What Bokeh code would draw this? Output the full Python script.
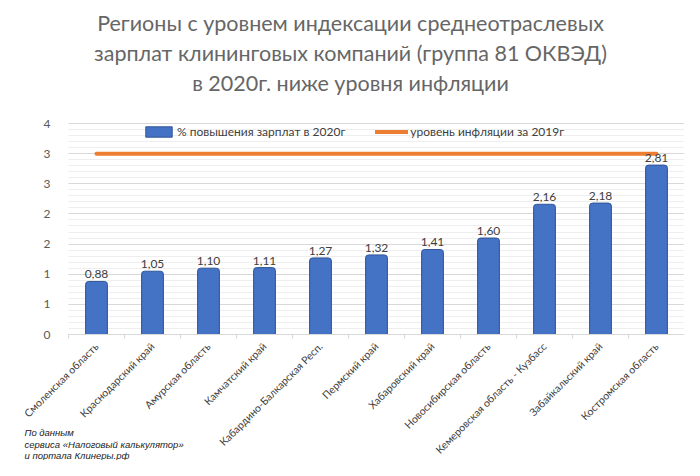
from bokeh.plotting import figure
from bokeh.models import (FixedTicker, Legend, LegendItem, Label, Range1d,
                          ColumnDataSource, LinearAxis, Grid)
from bokeh.embed import file_html
from bokeh.resources import INLINE
from bokeh.core.properties import value
import math

# ---- data ----
regions = [
    "Смоленская область",
    "Краснодарский край",
    "Амурская область",
    "Камчатский край",
    "Кабардино-Балкарская Респ.",
    "Пермский край",
    "Хабаровский край",
    "Новосибирская область",
    "Кемеровская область - Кузбасс",
    "Забайкальский край",
    "Костромская область",
]
pct_2020 = [0.88, 1.05, 1.10, 1.11, 1.27, 1.32, 1.41, 1.60, 2.16, 2.18, 2.81]
inflation_2019 = 3.0
y_ticks = [0, 0.5, 1.0, 1.5, 2.0, 2.5, 3.0, 3.5]
y_tick_labels = ["0", "1", "1", "2", "2", "3", "3", "4"]
series_names = ["% повышения зарплат в 2020г", "уровень инфляции за 2019г"]
title_lines = [
    "Регионы с уровнем индексации среднеотраслевых",
    "зарплат клининговых компаний (группа 81 ОКВЭД)",
    "в 2020г. ниже уровня инфляции",
]
note_lines = [
    "По данным",
    "сервиса «Налоговый калькулятор»",
    "и портала Клинеры.рф",
]

BAR = "#4472C4"
ORANGE = "#ED7D31"
TXT = "#404040"
FONT = "Lato"

W, H = 684, 460
# plot area inside the canvas (px): left, right, top(y=3.5), bottom(y=0)
PL, PR, PT, PB = 68, 684, 123, 334
n = len(regions)
ux = (PR - PL) / n                       # px per category
uy = (PB - PT) / y_ticks[-1]             # px per unit
x0 = -0.5 - PL / ux
x1 = x0 + W / ux
y1 = y_ticks[-1] + PT / uy
y0 = -(H - PB) / uy

idx = list(range(n))
src = ColumnDataSource(dict(
    x=idx,
    pct=pct_2020,
    lbl=[f"{v:.2f}".replace(".", ",") for v in pct_2020],
    infl=[inflation_2019] * n,
))

p = figure(
    x_range=Range1d(x0, x1), y_range=Range1d(y0, y1),
    width=W, height=H,
    output_backend="svg", toolbar_location=None,
    x_axis_location=None, y_axis_location=None,
    min_border=0, min_border_left=0, min_border_right=0,
    min_border_top=0, min_border_bottom=0,
)
p.outline_line_color = None
p.background_fill_color = "white"
p.border_fill_color = "white"
p.xgrid.visible = False
p.ygrid.visible = False

# grid lines (bounded to plot area)
minor = [i / 10 for i in range(36)]
ygrid = Grid(dimension=1, ticker=FixedTicker(ticks=y_ticks, minor_ticks=minor),
             grid_line_color="#D9D9D9", minor_grid_line_color="#EEEEEE")
if "cross_bounds" in Grid.properties():
    ygrid.cross_bounds = (-0.5, n - 0.5)
    p.add_layout(ygrid)
else:
    ys_major = [t for t in y_ticks if t > 0]
    ys_minor = [m for m in minor if all(abs(m - t) > 1e-9 for t in y_ticks)]
    p.segment(x0=[-0.5] * len(ys_minor), x1=[n - 0.5] * len(ys_minor), y0=ys_minor, y1=ys_minor,
              line_color="#EEEEEE", line_width=1)
    p.segment(x0=[-0.5] * len(ys_major), x1=[n - 0.5] * len(ys_major), y0=ys_major, y1=ys_major,
              line_color="#D9D9D9", line_width=1)

bars = p.vbar(x="x", top="pct", width=0.39, source=src,
              fill_color=BAR, line_color="#2F5597", line_width=1,
              border_radius=(3, 3, 0, 0))
infl_line = p.line(x="x", y="infl", source=src, line_color=ORANGE,
                   line_width=4, line_cap="round")

p.text(x="x", y="pct", text="lbl", source=src, y_offset=-3,
       text_align="center", text_baseline="bottom",
       text_font=value(FONT), text_font_size="12px", text_color=TXT)

# axes (fixed inside the canvas)
yaxis = LinearAxis(fixed_location=-0.5, bounds=(0, y_ticks[-1]),
                   ticker=FixedTicker(ticks=y_ticks))
yaxis.major_label_overrides = {t: l for t, l in zip(y_ticks, y_tick_labels)}
yaxis.axis_line_color = None
yaxis.major_tick_line_color = None
yaxis.minor_tick_line_color = None
yaxis.major_label_text_font = FONT
yaxis.major_label_text_font_size = "12px"
yaxis.major_label_text_color = "#595959"
yaxis.major_label_standoff = 12
p.add_layout(yaxis, "left")

xaxis = LinearAxis(fixed_location=0, bounds=(-0.5, n - 0.5),
                   ticker=FixedTicker(ticks=idx, minor_ticks=[i - 0.5 for i in range(n + 1)]))
xaxis.major_label_overrides = {i: r for i, r in zip(idx, regions)}
xaxis.major_label_orientation = math.pi / 4
xaxis.axis_line_color = "#D9D9D9"
xaxis.major_tick_line_color = None
xaxis.minor_tick_line_color = "#D9D9D9"
xaxis.minor_tick_in = 0
xaxis.minor_tick_out = 4
xaxis.major_label_text_font = FONT
xaxis.major_label_text_font_size = "10.5px"
xaxis.major_label_text_color = TXT
xaxis.major_label_standoff = 4
p.add_layout(xaxis, "below")

legend = Legend(
    items=[LegendItem(label=series_names[0], renderers=[bars]),
           LegendItem(label=series_names[1], renderers=[infl_line])],
    orientation="horizontal", location=(142, 321),
    glyph_width=33, glyph_height=13, label_standoff=2, spacing=30,
    padding=0, margin=0, border_line_color=None, background_fill_alpha=0,
    label_text_font=FONT, label_text_font_size="12px", label_text_color=TXT,
)
p.add_layout(legend)

# title (centered over the whole picture)
for i, line in enumerate(title_lines):
    p.add_layout(Label(x=350, y=H - 22 - 30 * i, x_units="screen", y_units="screen",
                       text=line, text_align="center", text_baseline="middle",
                       text_font=FONT, text_font_size="21.5px", text_color="#666666"))

# source note
for i, line in enumerate(note_lines):
    p.add_layout(Label(x=24, y=H - 432 - 11.5 * i, x_units="screen", y_units="screen",
                       text=line, text_align="left", text_baseline="middle",
                       text_font="Liberation Sans", text_font_style="italic",
                       text_font_size="9.5px", text_color="#222222"))

open("out.html", "w").write(file_html(p, INLINE))
